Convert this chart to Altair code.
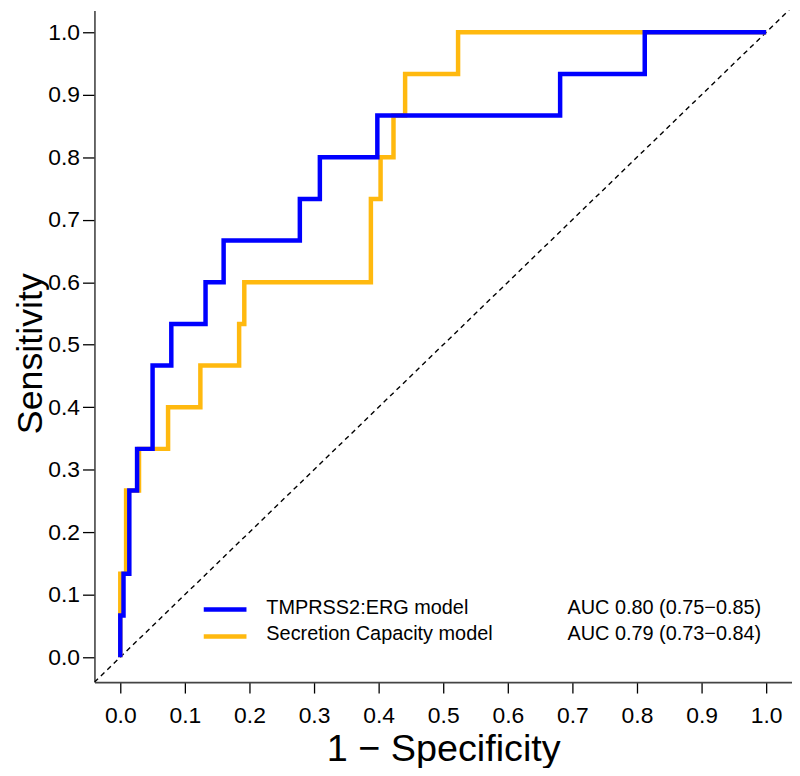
import altair as alt
import pandas as pd

# ---- data ----
blue_name = "TMPRSS2:ERG model"
blue_auc = "AUC 0.80 (0.75\u22120.85)"
blue_fpr = [0, 0, 0.005, 0.005, 0.014, 0.014, 0.026, 0.026, 0.05, 0.05, 0.079, 0.079,
            0.132, 0.132, 0.16, 0.16, 0.278, 0.278, 0.309, 0.309, 0.398, 0.398,
            0.681, 0.681, 0.812, 0.812, 1.0]
blue_tpr = [0, 0.0667, 0.0667, 0.1333, 0.1333, 0.2667, 0.2667, 0.3333, 0.3333, 0.4667,
            0.4667, 0.5333, 0.5333, 0.6, 0.6, 0.6667, 0.6667, 0.7333, 0.7333, 0.8,
            0.8, 0.8667, 0.8667, 0.9333, 0.9333, 1.0, 1.0]

orange_name = "Secretion Capacity model"
orange_auc = "AUC 0.79 (0.73\u22120.84)"
orange_fpr = [0, 0, 0.009, 0.009, 0.029, 0.029, 0.074, 0.074, 0.124, 0.124, 0.184, 0.184,
              0.192, 0.192, 0.388, 0.388, 0.403, 0.403, 0.423, 0.423, 0.441, 0.441,
              0.523, 0.523, 1.0]
orange_tpr = [0, 0.1333, 0.1333, 0.2667, 0.2667, 0.3333, 0.3333, 0.4, 0.4, 0.4667,
              0.4667, 0.5333, 0.5333, 0.6, 0.6, 0.7333, 0.7333, 0.8, 0.8, 0.8667,
              0.8667, 0.9333, 0.9333, 1.0, 1.0]

diag_x = [-0.04, 1.04]
diag_y = [-0.04, 1.04]

tick_values = [round(i * 0.05, 2) for i in range(21)]

BLUE = "#0000FF"
ORANGE = "#FFB90F"
FONT = "Liberation Sans"

blue_df = pd.DataFrame({"fpr": blue_fpr, "tpr": blue_tpr, "ord": range(len(blue_fpr))})
orange_df = pd.DataFrame({"fpr": orange_fpr, "tpr": orange_tpr, "ord": range(len(orange_fpr))})
diag_df = pd.DataFrame({"fpr": diag_x, "tpr": diag_y})

label_expr = "round(datum.value*100) % 10 == 0 ? format(datum.value, '.1f') : ''"
major_test = "round(datum.value*100) % 10 == 0"

x_axis = alt.Axis(
    values=tick_values, labelExpr=label_expr, grid=False,
    tickSize={"condition": {"test": major_test, "value": 11}, "value": 7},
    tickColor="black", tickWidth=1.3, domainColor="#444444", domainWidth=1.6,
    labelFont=FONT, labelFontSize=23, labelColor="black", labelPadding=12,
    labelFlush=False, labelOverlap=False,
    title="1 \u2212 Specificity", titleFont=FONT, titleFontSize=38,
    titleFontWeight="normal", titleColor="black", titleBaseline="alphabetic",
    titleY=79,
)
y_axis = alt.Axis(
    values=tick_values, labelExpr=label_expr, grid=False,
    tickSize={"condition": {"test": major_test, "value": 12}, "value": 8},
    tickColor="black", tickWidth=1.3, domainColor="#444444", domainWidth=1.6,
    labelFont=FONT, labelFontSize=23, labelColor="black", labelPadding=3,
    labelFlush=False, labelOverlap=False,
    title="Sensitivity", titleFont=FONT, titleFontSize=36,
    titleFontWeight="normal", titleColor="black", titleBaseline="alphabetic",
    titleAngle=-90, titleX=-53, titleY=345, titleAlign="center",
)

xs = alt.Scale(domain=[-0.04, 1.04], nice=False, zero=False)
ys = alt.Scale(domain=[-0.04, 1.035], nice=False, zero=False)

diag = alt.Chart(diag_df).mark_line(
    color="black", strokeWidth=1.4, strokeDash=[5, 4], clip=True
).encode(
    x=alt.X("fpr:Q", scale=xs, axis=x_axis),
    y=alt.Y("tpr:Q", scale=ys, axis=y_axis),
)

orange_line = alt.Chart(orange_df).mark_line(
    color=ORANGE, strokeWidth=4.5, clip=True, strokeJoin="miter"
).encode(x=alt.X("fpr:Q", scale=xs), y=alt.Y("tpr:Q", scale=ys), order="ord:Q")

blue_line = alt.Chart(blue_df).mark_line(
    color=BLUE, strokeWidth=4.5, clip=True, strokeJoin="miter"
).encode(x=alt.X("fpr:Q", scale=xs), y=alt.Y("tpr:Q", scale=ys), order="ord:Q")

layers = [diag, orange_line, blue_line]

# legend (manual, placed in pixel space of the plot area)
for i, (name, auc, col) in enumerate([(blue_name, blue_auc, BLUE),
                                       (orange_name, orange_auc, ORANGE)]):
    row = pd.DataFrame({"name": [name], "auc": [auc]})
    ypix = 603 + 27 * i
    layers.append(alt.Chart(row).mark_rule(color=col, strokeWidth=4.5).encode(
        x=alt.value(110), x2=alt.value(153), y=alt.value(ypix)))
    layers.append(alt.Chart(row).mark_text(
        align="left", baseline="alphabetic", font=FONT, fontSize=20, color="black"
    ).encode(x=alt.value(173), y=alt.value(ypix + 4), text="name:N"))
    layers.append(alt.Chart(row).mark_text(
        align="left", baseline="alphabetic", font=FONT, fontSize=20, color="black"
    ).encode(x=alt.value(476), y=alt.value(ypix + 4), text="auc:N"))

chart = alt.layer(*layers).properties(
    width=702, height=676,
    autosize=alt.AutoSizeParams(type="none"),
    padding={"left": 87, "top": 0, "right": 0, "bottom": 84},
    background="white",
).configure_view(stroke=None)

chart.save("out.html", embed_options={"renderer": "svg", "actions": False})
